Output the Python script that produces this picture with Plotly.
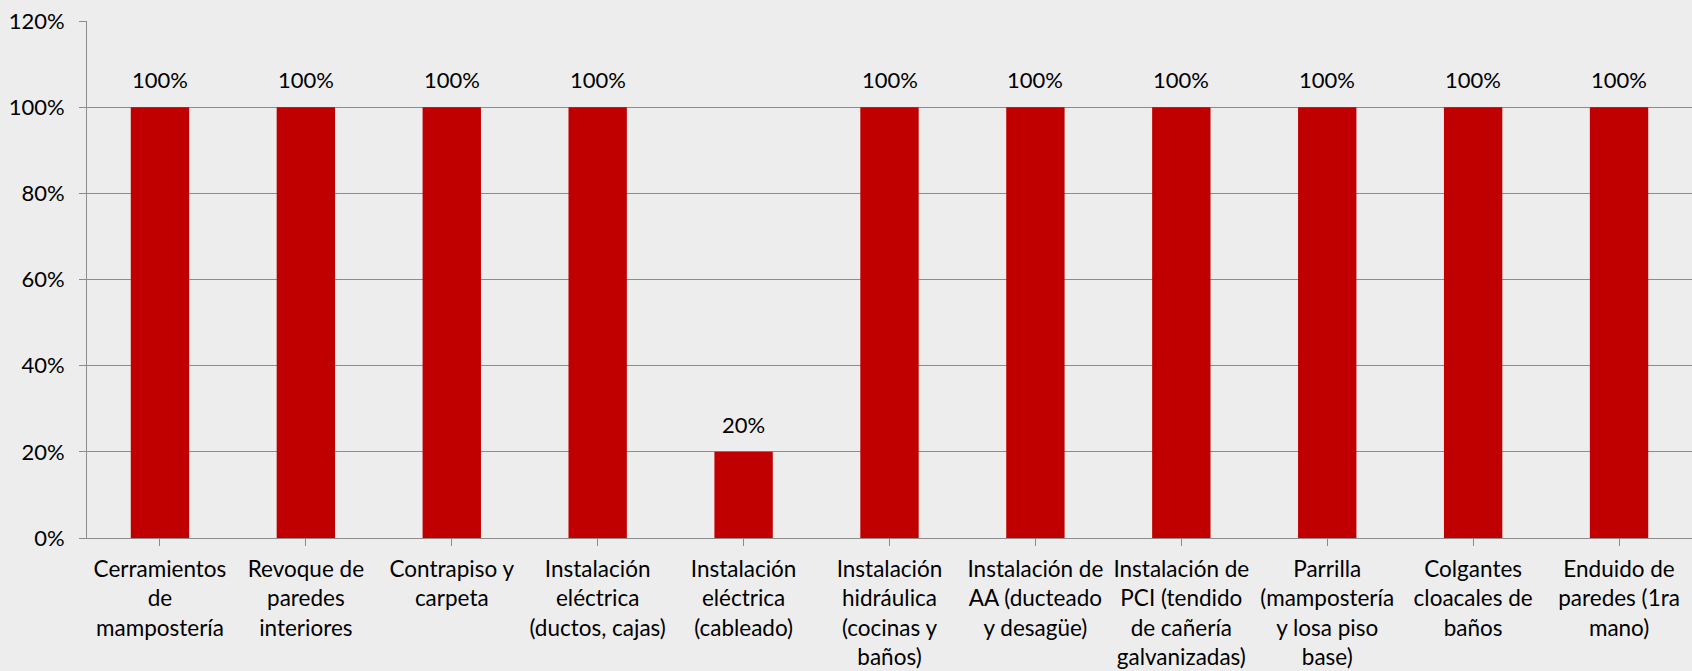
import plotly.graph_objects as go

categories = [
    "Cerramientos<br>de<br>mampostería",
    "Revoque de<br>paredes<br>interiores",
    "Contrapiso y<br>carpeta",
    "Instalación<br>eléctrica<br>(ductos, cajas)",
    "Instalación<br>eléctrica<br>(cableado)",
    "Instalación<br>hidráulica<br>(cocinas y<br>baños)",
    "Instalación de<br>AA (ducteado<br>y desagüe)",
    "Instalación de<br>PCI (tendido<br>de cañería<br>galvanizadas)",
    "Parrilla<br>(mampostería<br>y losa piso<br>base)",
    "Colgantes<br>cloacales de<br>baños",
    "Enduido de<br>paredes (1ra<br>mano)",
]
values = [1.0, 1.0, 1.0, 1.0, 0.2, 1.0, 1.0, 1.0, 1.0, 1.0, 1.0]
value_labels = ["100%", "100%", "100%", "100%", "20%", "100%", "100%", "100%", "100%", "100%", "100%"]
y_ticks = [0, 0.2, 0.4, 0.6, 0.8, 1.0, 1.2]
y_tick_labels = ["0%", "20%", "40%", "60%", "80%", "100%", "120%"]

FONT = "Lato, Carlito, Calibri, sans-serif"
FS = 22.5
BG = "#EDEDED"
GRID = "#8C8C8C"

fig = go.Figure()
fig.add_trace(go.Bar(
    x=list(range(len(categories))),
    y=values,
    marker=dict(color="#C00000", line=dict(width=0)),
    width=0.4,
))
for i, (v, t) in enumerate(zip(values, value_labels)):
    fig.add_annotation(x=i, y=v, text=t, showarrow=False, yanchor="bottom",
                       yshift=12, font=dict(family=FONT, size=22, color="#000000"))

fig.update_layout(
    width=1692, height=671,
    margin=dict(l=87, r=0, t=21, b=133),
    paper_bgcolor=BG, plot_bgcolor=BG,
    showlegend=False,
    font=dict(family=FONT, size=FS, color="#000000"),
)
fig.update_xaxes(
    tickmode="array", tickvals=list(range(len(categories))), ticktext=categories,
    range=[-0.5, len(categories) - 0.5],
    automargin=False,
    showgrid=False, showline=True, linecolor=GRID, linewidth=1,
    ticks="outside", tickson="boundaries", ticklen=7, tickcolor=GRID,
    tickangle=0, tickfont=dict(family=FONT, size=FS, color="#000000"),
    ticklabelstandoff=4,
)
fig.update_yaxes(
    tickmode="array", tickvals=y_ticks, ticktext=y_tick_labels,
    range=[0, 1.2],
    automargin=False,
    showgrid=True, gridcolor=GRID, gridwidth=1,
    showline=True, linecolor=GRID, linewidth=1,
    zeroline=False,
    ticks="outside", ticklen=7, tickcolor=GRID,
    tickfont=dict(family=FONT, size=22, color="#000000"),
    ticklabelstandoff=10,
)
fig.write_html(
    "out.html",
    config={"displayModeBar": False},
    post_script="document.body.style.margin='0';document.body.style.overflow='hidden';"
                "document.body.style.background='#EDEDED';",
)
